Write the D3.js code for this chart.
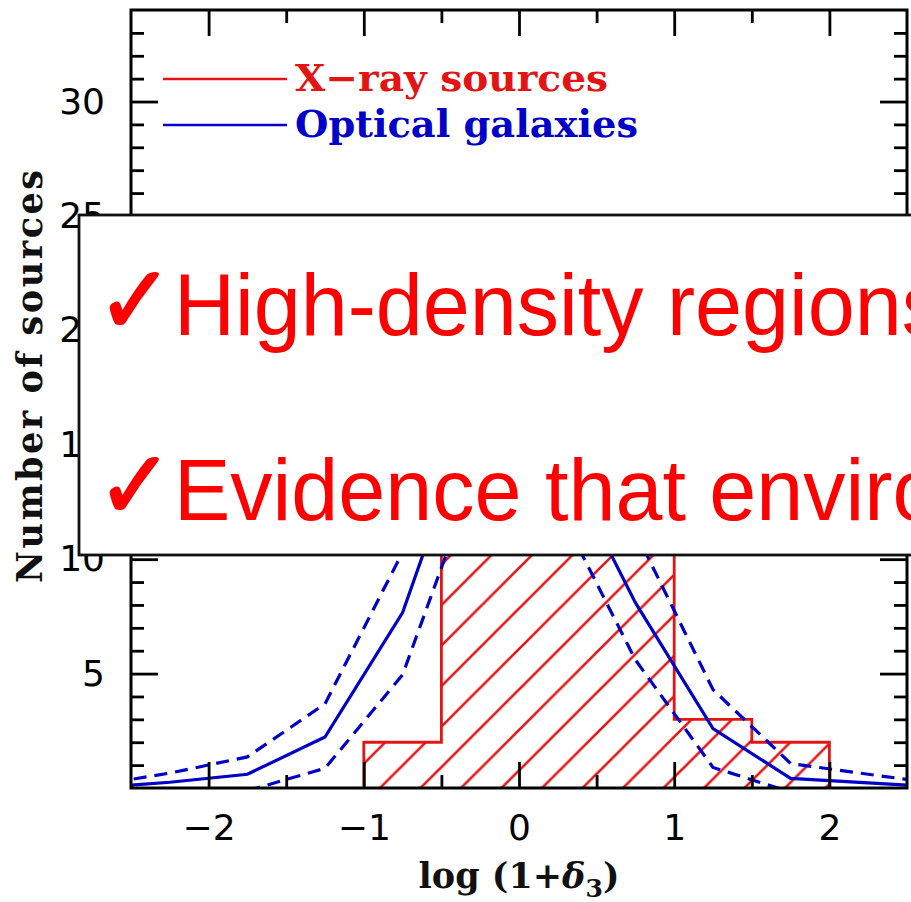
<!DOCTYPE html>
<html>
<head>
<meta charset="utf-8">
<script src="https://cdn.jsdelivr.net/npm/d3@7"></script>
<style>
  html, body { margin: 0; padding: 0; background: #fff; }
  svg { display: block; }
</style>
</head>
<body>
<svg id="chart" width="911" height="902"></svg>
<script>
// Histogram of X-ray sources vs optical galaxies in log(1+delta_3),
// with a callout box laid over the middle of the plot.

// X-ray histogram: bin edges and counts
const binEdges = [-1, -0.5, 0, 0.5, 1, 1.5, 2];
const xrayCounts = [2, 13, 18, 14, 3, 2];

// Optical galaxies: bin centres, scaled mean and +/- 1 sigma envelope
const optCenters = [-2.75, -2.25, -1.75, -1.25, -0.75, -0.25, 0.25, 0.75, 1.25, 1.75, 2.25, 2.75];
const optMean    = [0, 0.25, 0.6, 2.23, 7.67, 17.3, 14.8, 8.1, 2.6, 0.42, 0.22, 0.03];
const optUpper   = [0.1, 0.65, 1.36, 3.68, 10.3, 20.3, 17.3, 11.2, 4.3, 1.07, 0.6, 0.15];
const optLower   = [null, null, -0.12, 0.86, 4.95, 14.3, 12.3, 5.6, 0.9, -0.18, null, null];

// Axis ticks
const xMajor = [-2, -1, 0, 1, 2];
const xMinor = [-1.5, -0.5, 0.5, 1.5];
const yMajor = [5, 10, 15, 20, 25, 30];
const yMinor = d3.range(1, 34).filter((v) => v % 5 !== 0);

// Legend entries
const legendItems = [
  { label: "X\u2212ray sources", color: "#e31414", width: 313 },
  { label: "Optical galaxies", color: "#0000c8", width: 343 },
];

// Callout lines
const calloutLines = ["High-density regions", "Evidence that environment"];

const RED = "#e31414";
const BLUE = "#0000c8";

const svg = d3.select("#chart");
const pL = 131, pR = 907, pT = 10, pB = 788;

const x = d3.scaleLinear().domain([-2.5, 2.5]).range([pL, pR]);
const y = d3.scaleLinear().domain([0, 34]).range([pB, pT]);

svg.append("rect").attr("width", 911).attr("height", 902).attr("fill", "#fff");

const defs = svg.append("defs");
defs.append("clipPath").attr("id", "plot-clip")
  .append("rect").attr("x", pL).attr("y", pT)
  .attr("width", pR - pL).attr("height", pB - pT);

// 45 degree hatching for the X-ray histogram
const hw = 40.5;
defs.append("pattern").attr("id", "hatch")
  .attr("patternUnits", "userSpaceOnUse")
  .attr("x", 34).attr("y", 0)
  .attr("width", hw).attr("height", hw)
  .append("path")
  .attr("d", `M0,${hw} L${hw},0 M${-hw / 4},${hw / 4} L${hw / 4},${-hw / 4} M${hw * 3 / 4},${hw * 5 / 4} L${hw * 5 / 4},${hw * 3 / 4}`)
  .attr("stroke", RED).attr("stroke-width", 2.6);

const plot = svg.append("g").attr("clip-path", "url(#plot-clip)");

// step outline of the histogram
const histPts = [[binEdges[0], 0]];
xrayCounts.forEach((c, i) => {
  histPts.push([binEdges[i], c]);
  histPts.push([binEdges[i + 1], c]);
});
histPts.push([binEdges[binEdges.length - 1], 0]);
const histLine = d3.line().x((d) => x(d[0])).y((d) => y(d[1]));

plot.append("path").attr("d", histLine(histPts) + "Z")
  .attr("fill", "url(#hatch)").attr("stroke", "none");
plot.append("path").attr("d", histLine(histPts))
  .attr("fill", "none").attr("stroke", RED).attr("stroke-width", 2.8);

// optical galaxy curves
const optLine = d3.line()
  .defined((d) => d[1] !== null)
  .x((d) => x(d[0])).y((d) => y(d[1]));

[
  { vals: optUpper, dash: "13,8" },
  { vals: optLower, dash: "13,8" },
  { vals: optMean, dash: null },
].forEach((s) => {
  plot.append("path")
    .attr("d", optLine(optCenters.map((c, i) => [c, s.vals[i]])))
    .attr("fill", "none").attr("stroke", BLUE).attr("stroke-width", 3.2)
    .attr("stroke-dasharray", s.dash);
});

// axes: ticks point inwards on all four sides
const tickFont = "'DejaVu Sans', sans-serif";
function styleAxis(g, labels) {
  g.select(".domain").remove();
  g.selectAll(".tick line").attr("stroke", "#000").attr("stroke-width", 2.8);
  g.selectAll(".tick text")
    .style("font-family", tickFont).style("font-size", labels ? "36px" : "0px")
    .style("font-weight", 500)
    .attr("fill", "#000");
}

svg.append("g").attr("transform", `translate(0,${pB})`)
  .call(d3.axisBottom(x).tickValues(xMajor).tickSize(-26).tickPadding(26)
    .tickFormat((d) => (d < 0 ? "\u2212" + Math.abs(d) : d)))
  .call((g) => styleAxis(g, true));
svg.append("g").attr("transform", `translate(0,${pB})`)
  .call(d3.axisBottom(x).tickValues(xMinor).tickSize(-13).tickFormat(""))
  .call((g) => styleAxis(g, false));
svg.append("g").attr("transform", `translate(0,${pT})`)
  .call(d3.axisTop(x).tickValues(xMajor).tickSize(-26).tickFormat(""))
  .call((g) => styleAxis(g, false));
svg.append("g").attr("transform", `translate(0,${pT})`)
  .call(d3.axisTop(x).tickValues(xMinor).tickSize(-13).tickFormat(""))
  .call((g) => styleAxis(g, false));

svg.append("g").attr("transform", `translate(${pL},0)`)
  .call(d3.axisLeft(y).tickValues(yMajor).tickSize(-27).tickPadding(26))
  .call((g) => styleAxis(g, true));
svg.append("g").attr("transform", `translate(${pL},0)`)
  .call(d3.axisLeft(y).tickValues(yMinor).tickSize(-13).tickFormat(""))
  .call((g) => styleAxis(g, false));
svg.append("g").attr("transform", `translate(${pR},0)`)
  .call(d3.axisRight(y).tickValues(yMajor).tickSize(-27).tickFormat(""))
  .call((g) => styleAxis(g, false));
svg.append("g").attr("transform", `translate(${pR},0)`)
  .call(d3.axisRight(y).tickValues(yMinor).tickSize(-13).tickFormat(""))
  .call((g) => styleAxis(g, false));

svg.append("rect")
  .attr("x", pL).attr("y", pT).attr("width", pR - pL).attr("height", pB - pT)
  .attr("fill", "none").attr("stroke", "#000").attr("stroke-width", 3);

// axis titles
const labelFont = "'DejaVu Serif', serif";
svg.append("text")
  .attr("transform", `translate(42,${(170 + 583) / 2}) rotate(-90)`)
  .attr("text-anchor", "middle")
  .attr("textLength", 413).attr("lengthAdjust", "spacing")
  .style("font-family", labelFont).style("font-size", "35px").style("font-weight", "bold")
  .attr("fill", "#111")
  .text("Number of sources");

const xl = svg.append("text")
  .attr("x", x(0)).attr("y", 888)
  .attr("text-anchor", "middle")
  .style("font-family", labelFont).style("font-size", "35px").style("font-weight", "bold")
  .attr("fill", "#111");
xl.append("tspan").text("log (1+");
xl.append("tspan").style("font-style", "italic").text("\u03b4");
xl.append("tspan").attr("dy", 9).style("font-size", "25px").text("3");
xl.append("tspan").attr("dy", -9).text(")");

// legend
legendItems.forEach((d, i) => {
  const ly = 79 + i * 46;
  svg.append("line")
    .attr("x1", 163).attr("x2", 287).attr("y1", ly).attr("y2", ly)
    .attr("stroke", d.color).attr("stroke-width", 2.6);
  svg.append("text")
    .attr("x", 295).attr("y", ly + 12)
    .attr("textLength", d.width).attr("lengthAdjust", "spacingAndGlyphs")
    .style("font-family", labelFont).style("font-size", "38px").style("font-weight", "bold")
    .attr("fill", d.color)
    .text(d.label);
});

// callout box over the plot
svg.append("rect")
  .attr("x", 79).attr("y", 215).attr("width", 900).attr("height", 340)
  .attr("fill", "#fff").attr("stroke", "#111").attr("stroke-width", 2.8);

// each line: a tick mark glyph followed by the statement, in one text element
const sx = 0.96;
calloutLines.forEach((t, i) => {
  const by = 335 + i * 185;
  const line = svg.append("text")
    .attr("transform", `translate(0,${by}) scale(${sx},1)`)
    .attr("fill", "#ff0000");
  line.append("tspan")
    .attr("x", 97 / sx).attr("dy", -2.5)
    .style("font-family", "'DejaVu Sans', sans-serif").style("font-size", "95px")
    .attr("stroke", "#ff0000").attr("stroke-width", 2.2).attr("stroke-linejoin", "round")
    .text("\u2713");
  line.append("tspan")
    .attr("x", 174 / sx).attr("dy", 2.5)
    .attr("stroke", "none")
    .style("font-family", "'Liberation Sans', Arial, Helvetica, sans-serif").style("font-size", "88px")
    .text(t);
});
</script>
</body>
</html>
